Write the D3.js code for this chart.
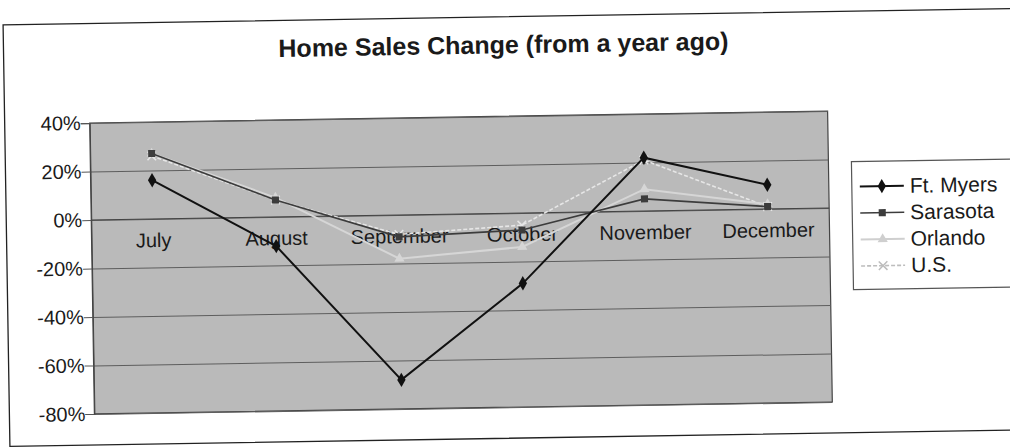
<!DOCTYPE html>
<html>
<head>
<meta charset="utf-8">
<script src="https://cdnjs.cloudflare.com/ajax/libs/d3/7.8.5/d3.min.js"></script>
<style>
  html, body { margin: 0; padding: 0; background: #fff; }
  svg { display: block; }
  text { font-family: "Liberation Sans", Arial, sans-serif; fill: #1a1a1a; }
</style>
</head>
<body>
<svg id="chart" width="1010" height="447"></svg>
<script>
// ---- data ----
const categories = ["July", "August", "September", "October", "November", "December"];
const ftMyers  = [16, -12, -68, -29, 22, 10];
const sarasota = [27, 7, -9, -7, 5, 1];
const orlando  = [27, 8, -18, -14, 9, 2];
const us       = [26, 7, -8, -5, 21, 1];
const yTicks   = [40, 20, 0, -20, -40, -60, -80];
const seriesNames = ["Ft. Myers", "Sarasota", "Orlando", "U.S."];
const title = "Home Sales Change (from a year ago)";

// ---- layout ----
const plot = { left: 92, right: 830, top: 117, bottom: 408 };

const svg = d3.select("#chart");
const root = svg.append("g").attr("transform", "rotate(-0.93 461 262.5)");

// outer chart border
root.append("rect")
  .attr("x", 7).attr("y", 17.5).attr("width", 1012).attr("height", 421.5)
  .attr("fill", "#fff").attr("stroke", "#222").attr("stroke-width", 1.3);

const x = d3.scalePoint().domain(categories).range([plot.left, plot.right]).padding(0.5);
const y = d3.scaleLinear().domain([-80, 40]).range([plot.bottom, plot.top]);

// plot area
root.append("rect")
  .attr("x", plot.left).attr("y", plot.top)
  .attr("width", plot.right - plot.left).attr("height", plot.bottom - plot.top)
  .attr("fill", "#bababa").attr("stroke", "#444").attr("stroke-width", 1.2);

// gridlines
root.append("g")
  .attr("transform", `translate(${plot.left},0)`)
  .call(d3.axisLeft(y).tickValues(yTicks).tickSize(-(plot.right - plot.left)).tickFormat(""))
  .call(g => g.select(".domain").remove())
  .call(g => g.selectAll("line").attr("stroke", "#5e5e5e").attr("stroke-width", 1));

// y axis labels
root.append("g")
  .attr("transform", `translate(${plot.left},0)`)
  .call(d3.axisLeft(y).tickValues(yTicks).tickSize(9).tickPadding(0).tickFormat(d => d + "%"))
  .call(g => g.select(".domain").attr("stroke", "#444"))
  .call(g => g.selectAll("line").attr("stroke", "#555"))
  .call(g => g.selectAll("text").attr("font-size", 20).attr("fill", "#1a1a1a")
      .attr("font-family", "Liberation Sans, Arial, sans-serif"));

// category axis at 0%
root.append("g")
  .attr("transform", `translate(0,${y(0)})`)
  .call(d3.axisBottom(x).tickSize(0).tickPadding(14))
  .call(g => g.select(".domain").attr("stroke", "#444").attr("d", `M${plot.left},0H${plot.right}`))
  .call(g => g.selectAll("text").attr("font-size", 20).attr("fill", "#1a1a1a")
      .attr("font-family", "Liberation Sans, Arial, sans-serif"));

// series
const series = [
  { name: "U.S.",      values: us,       color: "#e6e6e6", legendColor: "#bdbdbd", width: 1.6, dash: "4,2", marker: "x" },
  { name: "Orlando",   values: orlando,  color: "#d6d6d6", legendColor: "#cfcfcf", width: 2,   dash: null,  marker: "triangle" },
  { name: "Sarasota",  values: sarasota, color: "#3c3c3c", legendColor: "#3c3c3c", width: 1.6, dash: null,  marker: "square" },
  { name: "Ft. Myers", values: ftMyers,  color: "#111111", legendColor: "#111111", width: 2,   dash: null,  marker: "diamond" }
];

const line = d3.line().x((d, i) => x(categories[i])).y(d => y(d));

function drawMarker(g, type, cx, cy, color) {
  const t = `translate(${cx},${cy})`;
  if (type === "diamond") {
    g.append("path").attr("d", d3.symbol(d3.symbolDiamond, 60)()).attr("transform", t).attr("fill", color);
  } else if (type === "square") {
    g.append("path").attr("d", d3.symbol(d3.symbolSquare, 50)()).attr("transform", t).attr("fill", color);
  } else if (type === "triangle") {
    g.append("path").attr("d", d3.symbol(d3.symbolTriangle, 45)()).attr("transform", t).attr("fill", color);
  } else if (type === "x") {
    g.append("path").attr("d", d3.symbol(d3.symbolX, 50)()).attr("transform", t)
      .attr("fill", "none").attr("stroke", color).attr("stroke-width", 1.5);
  }
}

series.forEach(s => {
  const g = root.append("g");
  g.append("path").datum(s.values)
    .attr("d", line).attr("fill", "none")
    .attr("stroke", s.color).attr("stroke-width", s.width)
    .attr("stroke-dasharray", s.dash);
  s.values.forEach((v, i) => drawMarker(g, s.marker, x(categories[i]), y(v), s.color));
});

// title
root.append("text")
  .attr("x", 507).attr("y", 54)
  .attr("text-anchor", "middle")
  .attr("font-size", 25).attr("font-weight", "bold")
  .text(title);

// legend
const legend = root.append("g");
const lgX = 853, lgY = 168, lgRowH = 26.5;
legend.append("rect")
  .attr("x", lgX).attr("y", lgY).attr("width", 170).attr("height", 128)
  .attr("fill", "#fff").attr("stroke", "#555").attr("stroke-width", 1.2);

const legendOrder = seriesNames.map(n => series.find(s => s.name === n));
legendOrder.forEach((s, i) => {
  const cy = lgY + 25 + i * lgRowH;
  const lg = legend.append("g");
  lg.append("line").attr("x1", lgX + 8).attr("x2", lgX + 52).attr("y1", cy).attr("y2", cy)
    .attr("stroke", s.legendColor).attr("stroke-width", s.width)
    .attr("stroke-dasharray", s.dash);
  drawMarker(lg, s.marker, lgX + 30, cy, s.legendColor);
  lg.append("text").attr("x", lgX + 58).attr("y", cy + 7)
    .attr("font-size", 21).text(s.name);
});
</script>
</body>
</html>
